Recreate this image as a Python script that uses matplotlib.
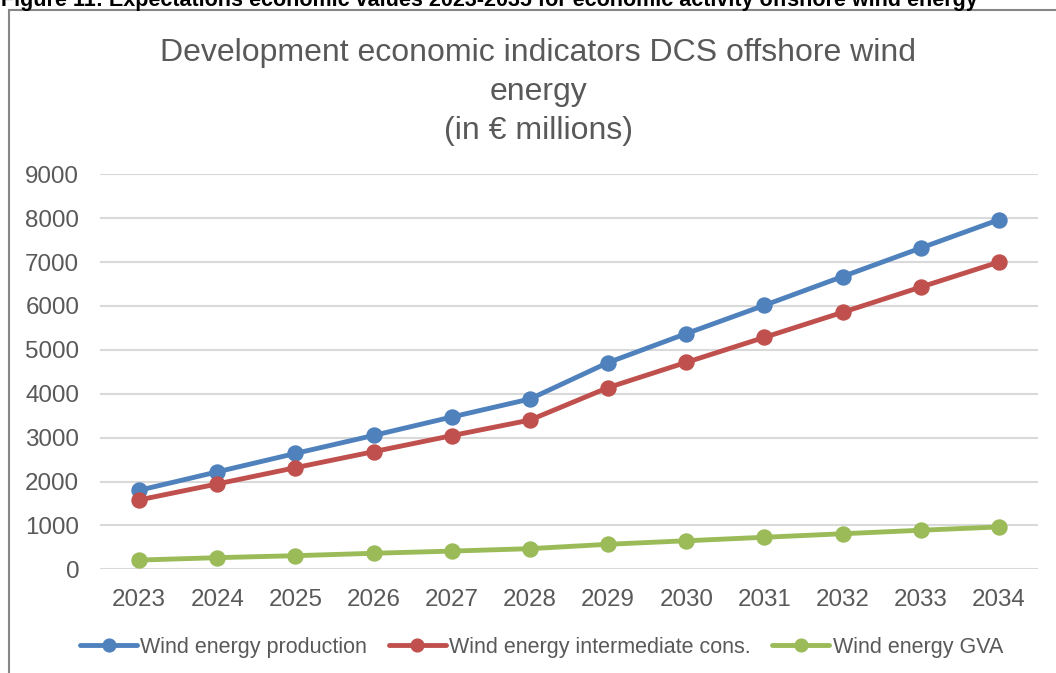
import matplotlib
matplotlib.use("Agg")
import matplotlib.pyplot as plt
from matplotlib.patches import Rectangle

years = ["2023", "2024", "2025", "2026", "2027", "2028",
         "2029", "2030", "2031", "2032", "2033", "2034"]
production = [1800, 2220, 2640, 3050, 3470, 3880, 4710, 5370, 6015, 6670, 7320, 7965]
intermediate = [1580, 1945, 2315, 2680, 3045, 3400, 4140, 4715, 5285, 5855, 6430, 7000]
gva = [210, 265, 310, 365, 415, 470, 570, 650, 730, 810, 890, 965]

series_names = ["Wind energy production", "Wind energy intermediate cons.", "Wind energy GVA"]
series_colors = ["#4F81BD", "#C0504D", "#9BBB59"]
yticks = list(range(0, 9001, 1000))

W, H = 1056, 673
plt.rcParams["font.family"] = ["Liberation Sans", "DejaVu Sans"]
TXT = "#595959"

fig = plt.figure(figsize=(W / 100, H / 100), dpi=100)
fig.patch.set_facecolor("white")

def fx(px):
    return px / W

def fy(py):
    return 1 - py / H

ax = fig.add_axes([fx(100), fy(569.3), fx(1038) - fx(100), fy(174.3) - fy(569.3)])

x = list(range(len(years)))
for vals, name, col in zip([production, intermediate, gva], series_names, series_colors):
    ax.plot(x, vals, color=col, lw=3.5, marker="o", ms=10.8, label=name,
            solid_capstyle="round", solid_joinstyle="round", clip_on=False, zorder=3)

ax.set_xlim(-0.5, len(years) - 0.5)
ax.set_ylim(0, 9000)
ax.set_yticks(yticks)
ax.set_yticklabels([str(v) for v in yticks])
ax.set_xticks(x)
ax.set_xticklabels(years)
ax.tick_params(axis="both", length=0, colors=TXT, labelsize=17.4)
ax.tick_params(axis="y", pad=15)
ax.tick_params(axis="x", pad=14.5)
ax.grid(axis="y", color="#D9D9D9", lw=1.5, zorder=0)
ax.set_axisbelow(True)
for s in ax.spines.values():
    s.set_visible(False)

# chart title
title_lines = ["Development economic indicators DCS offshore wind", "energy", "(in \u20ac millions)"]
for line, base in zip(title_lines, [61.5, 100, 138.5]):
    fig.text(fx(538.5), fy(base), line, ha="center", va="baseline",
             fontsize=23.0, color=TXT)

# caption above the chart frame
fig.text(fx(1), fy(6), "Figure 11: Expectations economic values 2023-2035 for economic activity offshore wind energy",
         ha="left", va="baseline", fontsize=15.5, fontweight="bold", color="black")

# chart frame
fig.patches.append(Rectangle((fx(8.5), fy(700)), fx(1100), fy(10.5) - fy(700),
                             transform=fig.transFigure, fill=False,
                             edgecolor="#868686", lw=1.5, zorder=0))

leg = fig.legend(loc="center", bbox_to_anchor=(fx(541.5), fy(647)), ncol=3,
                 frameon=False, fontsize=15.5, handlelength=2.65, handletextpad=0.15,
                 columnspacing=1.0, borderpad=0, numpoints=1, markerscale=0.85)
for t in leg.get_texts():
    t.set_color(TXT)

fig.savefig("out.png", dpi=100)
